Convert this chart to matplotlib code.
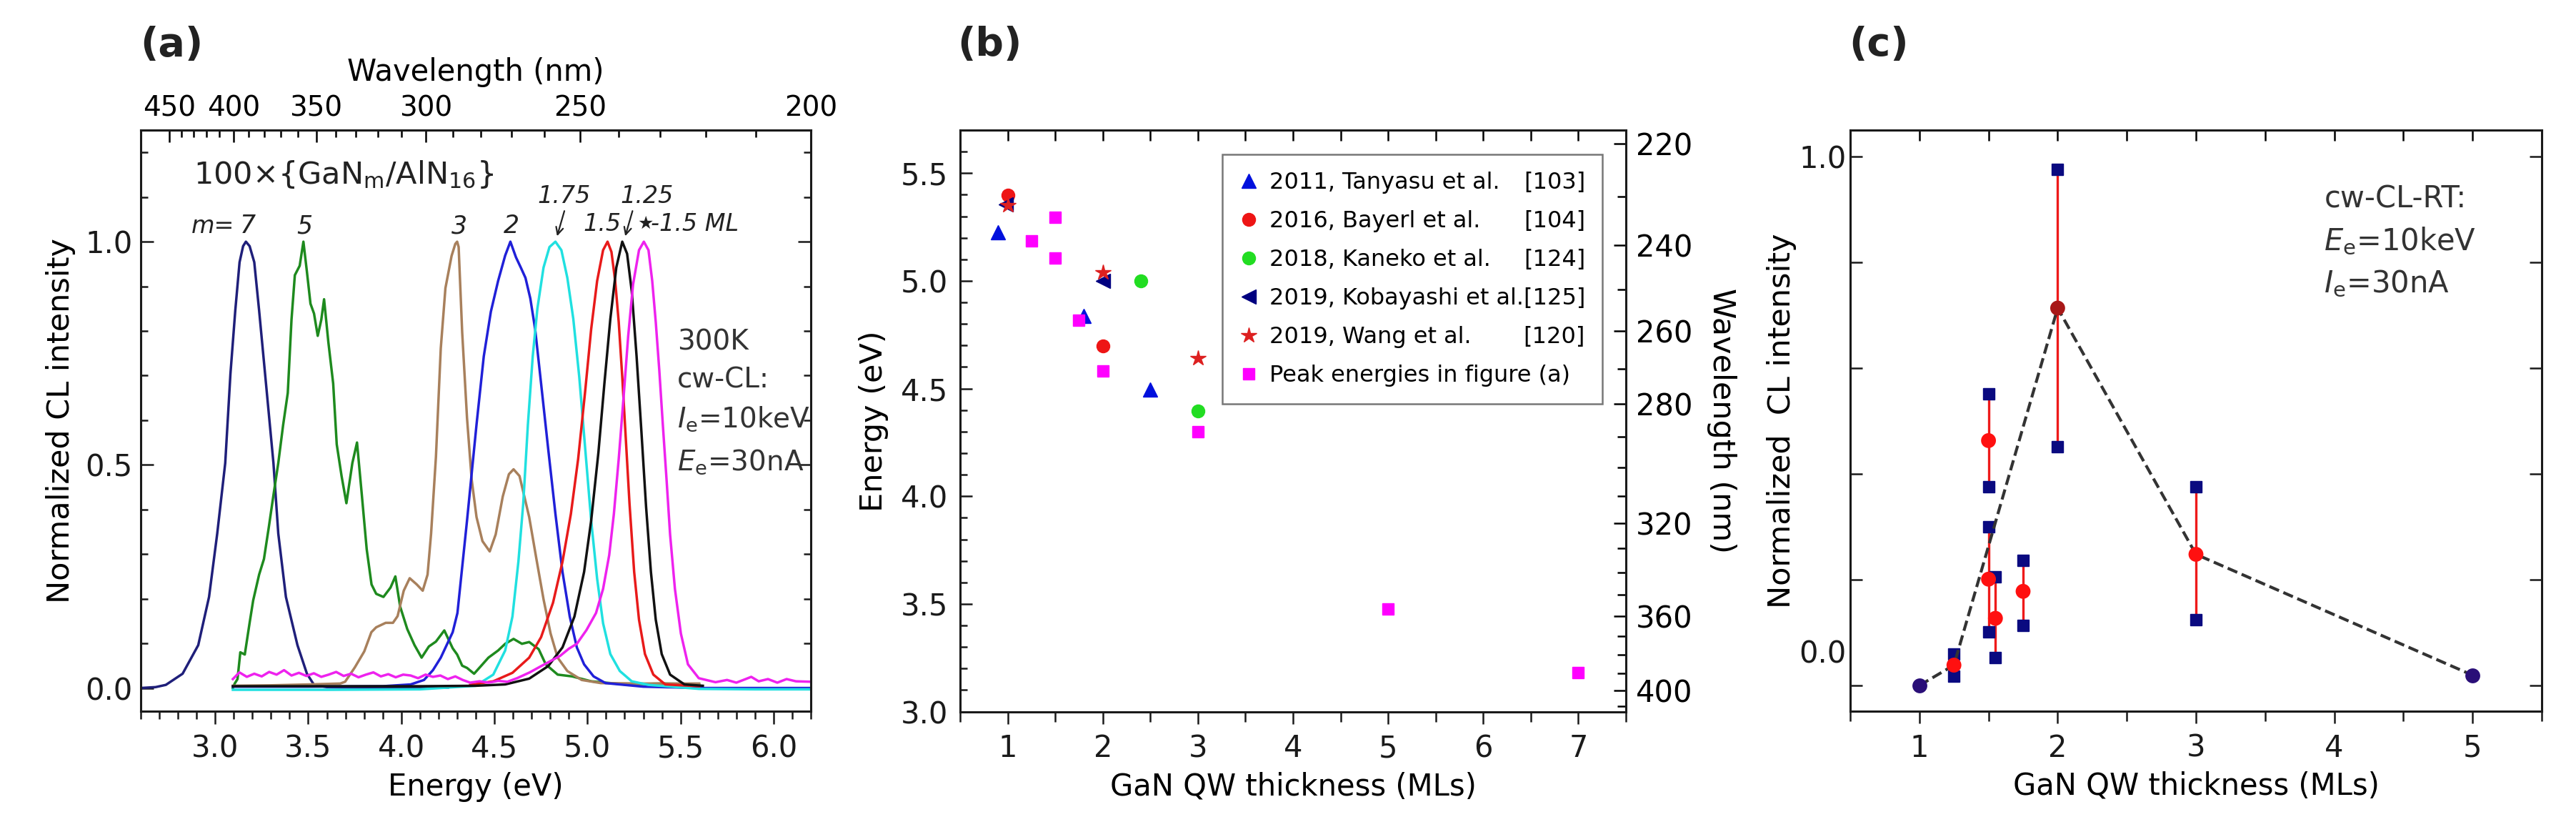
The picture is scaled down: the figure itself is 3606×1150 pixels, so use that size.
import numpy as np
import matplotlib
matplotlib.use("Agg")
import matplotlib.pyplot as plt
from matplotlib.ticker import FixedLocator, FixedFormatter, MultipleLocator, NullFormatter

plt.rcParams['font.family'] = ['DejaVu Sans']
plt.rcParams['mathtext.fontset'] = 'dejavusans'

# ------------------------------------------------------------------ data (a)
E_m7 = [2.60, 2.68, 2.735, 2.825, 2.909, 2.967, 3.011, 3.054, 3.082, 3.108, 3.131, 3.150, 3.165,
        3.185, 3.21, 3.236, 3.268, 3.313, 3.339, 3.38, 3.442, 3.493, 3.531, 3.60, 3.80, 4.00, 4.25]
I_m7 = [0.0, 0.002, 0.007, 0.032, 0.096, 0.204, 0.346, 0.504, 0.704, 0.846, 0.954, 0.99, 1.0,
        0.99, 0.954, 0.846, 0.704, 0.504, 0.346, 0.204, 0.096, 0.032, 0.007, 0.002, 0.001, 0.001, 0.001]

E_m5 = [3.095, 3.105, 3.12, 3.135, 3.159, 3.185, 3.204, 3.236, 3.262, 3.288, 3.313, 3.339, 3.365,
        3.39, 3.41, 3.428, 3.454, 3.474, 3.493, 3.512, 3.531, 3.551, 3.57, 3.585, 3.608, 3.634,
        3.653, 3.679, 3.705, 3.737, 3.762, 3.788, 3.814, 3.84, 3.865, 3.904, 3.942, 3.968, 3.994,
        4.032, 4.071, 4.109, 4.148, 4.186, 4.231, 4.276, 4.30, 4.327, 4.353, 4.391, 4.404, 4.468,
        4.52, 4.558, 4.603, 4.648, 4.687, 4.738, 4.776, 4.84, 4.918, 5.02, 5.2, 5.4, 5.6]
I_m5 = [0.0, 0.01, 0.02, 0.08, 0.075, 0.146, 0.196, 0.254, 0.289, 0.36, 0.432, 0.504, 0.589,
        0.661, 0.825, 0.925, 0.946, 1.0, 0.932, 0.861, 0.839, 0.789, 0.825, 0.871, 0.775, 0.682,
        0.546, 0.475, 0.414, 0.504, 0.55, 0.432, 0.311, 0.232, 0.211, 0.204, 0.225, 0.25, 0.182,
        0.132, 0.096, 0.068, 0.093, 0.104, 0.129, 0.089, 0.075, 0.05, 0.045, 0.032, 0.038, 0.068,
        0.084, 0.099, 0.11, 0.099, 0.103, 0.087, 0.053, 0.03, 0.026, 0.015, 0.008, 0.01, 0.008]

E_m3 = [3.095, 3.30, 3.50, 3.672, 3.698, 3.75, 3.801, 3.839, 3.865, 3.916, 3.955, 3.98, 4.013,
        4.045, 4.083, 4.115, 4.141, 4.16, 4.186, 4.212, 4.237, 4.27, 4.29, 4.30, 4.308, 4.327,
        4.353, 4.378, 4.404, 4.436, 4.475, 4.507, 4.545, 4.578, 4.603, 4.635, 4.687, 4.725, 4.764,
        4.802, 4.84, 4.892, 4.969, 5.072, 5.30, 5.60]
I_m3 = [0.005, 0.006, 0.008, 0.01, 0.014, 0.046, 0.082, 0.125, 0.136, 0.146, 0.146, 0.161, 0.218,
        0.246, 0.232, 0.218, 0.254, 0.346, 0.518, 0.761, 0.896, 0.968, 0.995, 1.0, 0.988, 0.797,
        0.605, 0.467, 0.383, 0.329, 0.306, 0.344, 0.429, 0.479, 0.49, 0.475, 0.383, 0.291, 0.199,
        0.122, 0.068, 0.038, 0.018, 0.011, 0.01, 0.01]

E_m2 = [3.095, 3.50, 3.90, 4.05, 4.122, 4.17, 4.212, 4.276, 4.3015, 4.353, 4.404, 4.443, 4.481,
        4.52, 4.558, 4.586, 4.616, 4.642, 4.667, 4.693, 4.719, 4.751, 4.789, 4.828, 4.866, 4.905,
        4.943, 4.982, 5.033, 5.097, 5.30, 5.60, 5.90, 6.20]
I_m2 = [0.003, 0.003, 0.004, 0.008, 0.018, 0.04, 0.068, 0.125, 0.168, 0.375, 0.59, 0.743, 0.843,
        0.912, 0.969, 1.0, 0.965, 0.942, 0.919, 0.873, 0.804, 0.682, 0.536, 0.39, 0.26, 0.16,
        0.091, 0.053, 0.026, 0.011, 0.003, 0.0, 0.0, 0.0]

E_m175 = [3.095, 3.60, 4.10, 4.40, 4.494, 4.558, 4.597, 4.629, 4.655, 4.68, 4.706, 4.731, 4.764,
          4.796, 4.828, 4.86, 4.892, 4.924, 4.956, 4.988, 5.02, 5.052, 5.084, 5.123, 5.174, 5.238,
          5.328, 5.60, 5.90, 6.20]
I_m175 = [-0.004, -0.004, -0.003, 0.005, 0.03, 0.084, 0.16, 0.283, 0.413, 0.59, 0.743, 0.85,
          0.942, 0.988, 1.0, 0.981, 0.919, 0.827, 0.697, 0.536, 0.375, 0.245, 0.145, 0.076,
          0.038, 0.015, 0.007, -0.002, -0.003, -0.003]

E_m15 = [4.37, 4.494, 4.597, 4.687, 4.751, 4.815, 4.866, 4.911, 4.95, 4.988, 5.02, 5.052, 5.084,
         5.108, 5.129, 5.149, 5.168, 5.187, 5.206, 5.226, 5.251, 5.277, 5.309, 5.354, 5.418, 5.60]
I_m15 = [0.007, 0.015, 0.034, 0.068, 0.114, 0.191, 0.283, 0.39, 0.513, 0.666, 0.804, 0.912, 0.981,
         1.0, 0.977, 0.912, 0.82, 0.697, 0.559, 0.413, 0.26, 0.153, 0.076, 0.03, 0.008, 0.004]

E_m125 = [3.095, 3.60, 4.10, 4.40, 4.558, 4.687, 4.789, 4.866, 4.93, 4.982, 5.02, 5.059, 5.091,
          5.123, 5.155, 5.187, 5.213, 5.238, 5.264, 5.29, 5.315, 5.341, 5.367, 5.399, 5.444, 5.521,
          5.62]
I_m125 = [0.004, 0.004, 0.004, 0.005, 0.008, 0.021, 0.049, 0.091, 0.16, 0.26, 0.375, 0.528, 0.682,
          0.827, 0.942, 1.0, 0.973, 0.889, 0.743, 0.574, 0.406, 0.26, 0.153, 0.076, 0.03, 0.008,
          0.005]

E_star = [3.095, 3.13, 3.17, 3.21, 3.25, 3.29, 3.33, 3.37, 3.41, 3.45, 3.49, 3.53, 3.57, 3.61,
          3.65, 3.69, 3.73, 3.77, 3.81, 3.85, 3.89, 3.93, 3.97, 4.01, 4.05, 4.09, 4.13, 4.17,
          4.21, 4.25, 4.29, 4.33, 4.37, 4.42, 4.47, 4.52, 4.57, 4.622, 4.69, 4.751, 4.80, 4.853,
          4.90, 4.943, 4.995, 5.046, 5.084, 5.117, 5.142, 5.168, 5.194, 5.219, 5.245, 5.277,
          5.303, 5.328, 5.348, 5.367, 5.386, 5.405, 5.425, 5.444, 5.47, 5.502, 5.54, 5.598,
          5.688, 5.75, 5.80, 5.85, 5.88, 5.92, 5.97, 6.02, 6.07, 6.12, 6.20]
I_star = [0.02, 0.035, 0.025, 0.032, 0.026, 0.036, 0.03, 0.04, 0.028, 0.034, 0.027, 0.033, 0.025,
          0.03, 0.036, 0.027, 0.032, 0.024, 0.03, 0.035, 0.026, 0.031, 0.024, 0.03, 0.028, 0.022,
          0.03, 0.025, 0.028, 0.02, 0.026, 0.018, 0.012, 0.015, 0.012, 0.016, 0.014, 0.022, 0.035,
          0.049, 0.06, 0.072, 0.088, 0.099, 0.13, 0.168, 0.222, 0.298, 0.39, 0.513, 0.651, 0.789,
          0.904, 0.981, 1.0, 0.981, 0.912, 0.82, 0.712, 0.59, 0.467, 0.344, 0.222, 0.122, 0.053,
          0.022, 0.013, 0.018, 0.012, 0.02, 0.025, 0.015, 0.02, 0.012, 0.02, 0.015, 0.014]

spectra = [
    (E_m7, I_m7, '#1f1f7a'),
    (E_m5, I_m5, '#1e8a1e'),
    (E_m3, I_m3, '#a8805c'),
    (E_m2, I_m2, '#2020d8'),
    (E_m175, I_m175, '#20e0e0'),
    (E_m15, I_m15, '#e81a1a'),
    (E_m125, I_m125, '#111111'),
    (E_star, I_star, '#ee22ee'),
]

# peak labels of panel (a)
m_label_E = [3.177, 3.481, 4.312, 4.592]
m_label_txt = ['7', '5', '3', '2']

# wavelength tick labels
wl_ticks_a = [450, 400, 350, 300, 250, 200]
wl_ticks_b = [220, 240, 260, 280, 320, 360, 400]

# ------------------------------------------------------------------ data (b)
tanyasu_x, tanyasu_y = [0.9, 1.8, 2.5], [5.226, 4.837, 4.494]
bayerl_x, bayerl_y = [1.0, 2.0], [5.397, 4.697]
kaneko_x, kaneko_y = [2.4, 3.0], [5.0, 4.397]
kobayashi_x, kobayashi_y = [0.98, 2.0], [5.354, 5.0]
wang_x, wang_y = [1.0, 2.0, 3.0], [5.35, 5.04, 4.64]
peak_x = [1.25, 1.5, 1.5, 1.75, 2.0, 3.0, 5.0, 7.0]
peak_y = [5.185, 5.296, 5.107, 4.818, 4.583, 4.30, 3.477, 3.18]

leg_names = ["2011, Tanyasu et al.", "2016, Bayerl et al.", "2018, Kaneko et al.",
             "2019, Kobayashi et al.", "2019, Wang et al.", "Peak energies in figure (a)"]
leg_refs = ["[103]", "[104]", "[124]", "[125]", "[120]", ""]

# ------------------------------------------------------------------ data (c)
thk_c = [1.25, 1.5, 1.5, 1.55, 1.75, 2.0, 3.0]
mean_c = [0.0385, 0.463, 0.201, 0.127, 0.178, 0.7135, 0.248]
lo_c = [0.017, 0.376, 0.102, 0.053, 0.114, 0.452, 0.124]
hi_c = [0.060, 0.551, 0.300, 0.205, 0.2365, 0.976, 0.376]
mean_colors = ['#ff1010', '#ff1010', '#ff1010', '#ff1010', '#ff1010', '#a81818', '#ff1010']
end_x, end_y = [1.0, 5.0], [0.0, 0.0195]
trend_x = [1.0, 1.25, 2.0, 3.0, 5.0]
trend_y = [0.0, 0.0385, 0.7135, 0.248, 0.0195]

# ------------------------------------------------------------------ figure
W, H, DPI = 3606, 1150, 100
fig = plt.figure(figsize=(W / DPI, H / DPI), dpi=DPI)
HC = 1239.84


def e2l(x):
    x = np.array(x, dtype=float)
    near = np.isclose(x, 0)
    x[near] = np.inf
    x[~near] = HC / x[~near]
    return x


SP = '#1a1a1a'
LS = 30


def style_axes(ax):
    for s in ax.spines.values():
        s.set_linewidth(2.2)
        s.set_color(SP)
    ax.tick_params(which='both', colors=SP, width=1.8, labelsize=LS)


# ----------------------------- (a)
axA = fig.add_axes([197 / W, 1 - 995 / H, 938 / W, 813 / H])
style_axes(axA)
for E, I, c in spectra:
    axA.plot(E, I, color=c, lw=2.5)
axA.set_xlim(2.6, 6.2)
axA.set_ylim(-0.052, 1.25)
axA.xaxis.set_major_locator(MultipleLocator(0.5))
axA.xaxis.set_minor_locator(MultipleLocator(0.1))
axA.set_yticks([0.0, 0.5, 1.0])
axA.set_yticklabels(['0.0', '0.5', '1.0'])
axA.yaxis.set_minor_locator(MultipleLocator(0.1))
axA.tick_params(axis='x', which='major', direction='out', length=13, pad=10, top=False)
axA.tick_params(axis='x', which='minor', direction='out', length=8, top=False)
axA.tick_params(axis='y', which='major', direction='in', length=13, pad=8, left=True, right=True)
axA.tick_params(axis='y', which='minor', direction='in', length=7, left=True, right=True)
axA.set_xlabel('Energy (eV)', fontsize=30, labelpad=8)
axA.set_ylabel('Normalized CL intensity', fontsize=31, labelpad=10)

secA = axA.secondary_xaxis('top', functions=(e2l, e2l))
for s in secA.spines.values():
    s.set_linewidth(2.2)
secA.set_xticks(wl_ticks_a)
secA.set_xticklabels([str(v) for v in wl_ticks_a])
secA.xaxis.set_minor_locator(FixedLocator(list(range(200, 451, 10))))
secA.xaxis.set_minor_formatter(NullFormatter())
secA.tick_params(which='major', direction='in', length=12, width=1.8, labelsize=28, pad=8)
secA.tick_params(which='minor', direction='in', length=7, width=1.8)
secA.set_xlabel('Wavelength (nm)', fontsize=30, labelpad=14)

axA.text(2.884, 1.15, '100×{GaN$_\\mathregular{m}$/AlN$_\\mathregular{16}$}', fontsize=31,
         ha='left', va='center', color='#222222')
axA.text(3.105, 1.035, 'm=', style='italic', fontsize=24, ha='right', va='center', color='#222222')
for e, t in zip(m_label_E, m_label_txt):
    axA.text(e, 1.035, t, style='italic', fontsize=25, ha='center', va='center', color='#222222')
axA.text(4.873, 1.102, '1.75', style='italic', fontsize=24, ha='center', va='center', color='#222222')
axA.text(5.318, 1.102, '1.25', style='italic', fontsize=24, ha='center', va='center', color='#222222')
axA.text(5.078, 1.040, '1.5', style='italic', fontsize=24, ha='center', va='center', color='#222222')
axA.text(5.312, 1.040, '★', fontsize=18, ha='center', va='center', color='#222222')
axA.text(5.342, 1.040, '-1.5 ML', style='italic', fontsize=24, ha='left', va='center', color='#222222')
axA.annotate('', xy=(4.834, 1.008), xytext=(4.879, 1.073),
             arrowprops=dict(arrowstyle='->', lw=1.6, color='#222222', mutation_scale=18))
axA.annotate('', xy=(5.200, 1.008), xytext=(5.245, 1.073),
             arrowprops=dict(arrowstyle='->', lw=1.6, color='#222222', mutation_scale=18))
for yy, t in zip([0.775, 0.69, 0.602, 0.507],
                 ['300K', 'cw-CL:', '$I_{\\rm e}$=10keV', '$E_{\\rm e}$=30nA']):
    axA.text(5.482, yy, t, fontsize=28, ha='left', va='center', color='#333333')

# ----------------------------- (b)
axB = fig.add_axes([1344 / W, 1 - 995.6 / H, 932 / W, 813.6 / H])
style_axes(axB)
series_b = [
    (tanyasu_x, tanyasu_y, '^', '#0010dd', 15),
    (bayerl_x, bayerl_y, 'o', '#ee1515', 13),
    (kaneko_x, kaneko_y, 'o', '#22dd22', 13),
    (kobayashi_x, kobayashi_y, '<', '#000080', 14),
    (wang_x, wang_y, '*', '#dd2020', 16),
    (peak_x, peak_y, 's', '#ff00ff', 12),
]
for i, (x, y, mk, col, ms) in enumerate(series_b):
    lab = leg_names[i] + (leg_refs[i] if i == 3 else '')
    axB.plot(x, y, ls='none', marker=mk, color=col, ms=ms, mec=col, label=lab)
axB.set_xlim(0.5, 7.5)
axB.set_ylim(3.0, 5.7)
axB.xaxis.set_major_locator(MultipleLocator(1))
axB.xaxis.set_minor_locator(MultipleLocator(0.5))
axB.set_yticks([3.0, 3.5, 4.0, 4.5, 5.0, 5.5])
axB.set_yticklabels(['3.0', '3.5', '4.0', '4.5', '5.0', '5.5'])
axB.yaxis.set_minor_locator(MultipleLocator(0.1))
axB.tick_params(axis='x', which='major', direction='out', length=12, pad=10)
axB.tick_params(axis='x', which='minor', direction='out', length=10)
axB.tick_params(axis='y', which='major', direction='in', length=12, pad=12, right=False)
axB.tick_params(axis='y', which='minor', direction='in', length=7, right=False)
axB.set_xlabel('GaN QW thickness (MLs)', fontsize=30, labelpad=8)
axB.set_ylabel('Energy (eV)', fontsize=31, labelpad=12)
# top ticks (inward)
topB = axB.secondary_xaxis('top')
topB.xaxis.set_major_locator(MultipleLocator(0.5))
topB.tick_params(direction='in', length=11, width=1.8, labeltop=False)
secB = axB.secondary_yaxis('right', functions=(e2l, e2l))
secB.set_yticks(wl_ticks_b)
secB.set_yticklabels([str(v) for v in wl_ticks_b])
secB.yaxis.set_minor_locator(FixedLocator(list(range(220, 411, 10))))
secB.yaxis.set_minor_formatter(NullFormatter())
secB.tick_params(which='major', direction='in', length=12, width=1.8, labelsize=30, pad=10)
secB.tick_params(which='minor', direction='in', length=9, width=1.8)
secB.set_ylabel('Wavelength (nm)', fontsize=31, rotation=270, va='bottom', labelpad=14)

leg = axB.legend(loc='upper right', bbox_to_anchor=(0.9646, 0.958), borderaxespad=0,
                 fontsize=23, frameon=True, fancybox=False, edgecolor='#777777',
                 handlelength=0.8, handletextpad=0.5, borderpad=0.75, labelspacing=0.72,
                 numpoints=1, framealpha=1)
leg.get_frame().set_linewidth(1.8)

# ----------------------------- (c)
axC = fig.add_axes([2590 / W, 1 - 995 / H, 968 / W, 813 / H])
style_axes(axC)
axC.vlines(thk_c, lo_c, hi_c, colors='#ee1a1a', lw=2.4, zorder=2)
axC.plot(thk_c, lo_c, 's', color='#0a0a80', ms=11, zorder=2.5, ls='none')
axC.plot(thk_c, hi_c, 's', color='#0a0a80', ms=11, zorder=2.5, ls='none')
axC.plot(trend_x, trend_y, color='#333333', lw=3, ls=(0, (3.5, 1.6)), zorder=3)
axC.scatter(thk_c, mean_c, s=15 ** 2, c=mean_colors, zorder=4, linewidths=0)
axC.scatter(end_x, end_y, s=15 ** 2, c='#2a0f78', zorder=4, linewidths=0)
axC.set_xlim(0.5, 5.5)
axC.set_ylim(-0.0486, 1.05)
axC.xaxis.set_major_locator(MultipleLocator(1))
axC.xaxis.set_minor_locator(MultipleLocator(0.5))
axC.set_yticks([0.0, 0.2, 0.4, 0.6, 0.8, 1.0])
axC.set_yticklabels(['', '', '', '', '', '1.0'])
axC.yaxis.set_minor_locator(FixedLocator([0.065]))
axC.yaxis.set_minor_formatter(FixedFormatter(['0.0']))
axC.tick_params(axis='x', which='major', direction='out', length=12, pad=10)
axC.tick_params(axis='x', which='minor', direction='out', length=10)
axC.tick_params(axis='y', which='major', direction='in', length=12, pad=4, right=True)
axC.tick_params(axis='y', which='minor', direction='in', length=0, pad=4, right=True,
                labelsize=LS)
axC.set_xlabel('GaN QW thickness (MLs)', fontsize=30, labelpad=8)
axC.set_ylabel('Normalized  CL intensity', fontsize=31, labelpad=2)
topC = axC.secondary_xaxis('top')
topC.xaxis.set_major_locator(MultipleLocator(0.5))
topC.tick_params(direction='in', length=11, width=1.8, labeltop=False)
for yy, t in zip([0.92, 0.84, 0.76], ['cw-CL-RT:', '$E_{\\rm e}$=10keV', '$I_{\\rm e}$=30nA']):
    axC.text(3.927, yy, t, fontsize=30, ha='left', va='center', color='#333333')

# panel labels
for xp, t in zip([240, 1385, 2630], ['(a)', '(b)', '(c)']):
    fig.text(xp / W, 1 - 63 / H, t, fontsize=40, fontweight='bold', ha='center', va='center',
             color='#222222')

# legend references, right-aligned like the original
fig.canvas.draw()
rend = fig.canvas.get_renderer()
texts = leg.get_texts()
right_edge = texts[3].get_window_extent(rend).x1
for i, (t, ref) in enumerate(zip(texts, leg_refs)):
    if ref and i != 3:
        tb = t.get_window_extent(rend)
        fig.text(right_edge / W, tb.y0 / H, ref, fontsize=23, ha='right', va='bottom')

fig.savefig('out.png', dpi=DPI, facecolor='white')
